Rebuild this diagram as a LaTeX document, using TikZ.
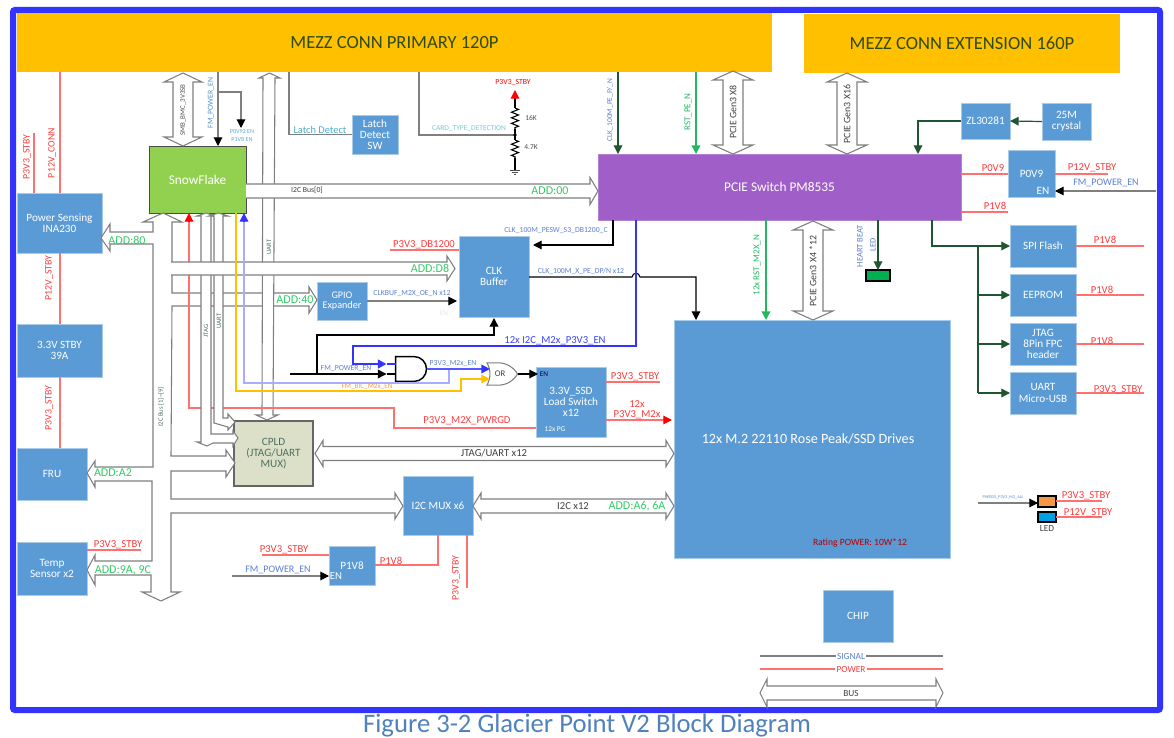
\documentclass[tikz,border=0pt]{standalone}
\usepackage{fontspec}
\setmainfont{Carlito}
\usetikzlibrary{arrows.meta,calc,shapes.gates.logic.US,decorations.pathmorphing}
\definecolor{blk}{HTML}{5B9BD5}
\definecolor{blkb}{HTML}{A9CBE8}
\definecolor{mezz}{HTML}{FFC000}
\definecolor{frameb}{HTML}{3333FF}
\definecolor{gline}{HTML}{7F7F7F}
\definecolor{pline}{HTML}{FF7070}
\definecolor{ptxt}{HTML}{FF3B3B}
\definecolor{ctxt}{HTML}{5B7FD0}
\definecolor{addg}{HTML}{33CC66}
\definecolor{dkg}{HTML}{1E5631}
\definecolor{mgrn}{HTML}{21B85F}
\definecolor{lav}{HTML}{AAAAFF}
\definecolor{teal1}{HTML}{5BA9CF}
\definecolor{cyan1}{HTML}{4BACC6}
\definecolor{cyan2}{HTML}{7CC4DC}
\definecolor{purp}{HTML}{A05FC8}
\definecolor{snowg}{HTML}{92D050}
\definecolor{cpldf}{HTML}{DCE0C9}
\definecolor{gtxt}{HTML}{4F7060}
\definecolor{orgt}{HTML}{FF9A3C}
\definecolor{ledgreen}{HTML}{00B050}
\definecolor{ledorange}{HTML}{F79646}
\definecolor{ledblue}{HTML}{00A0E6}
\definecolor{mezztxt}{HTML}{2F4A12}
\definecolor{titleb}{HTML}{4F81BD}
\tikzset{
 fs/.style={font=\fontsize{#1}{#1}\selectfont},
 blkn/.style={draw=blkb,line width=.6pt,fill=blk,text=white,align=center,outer sep=0pt,fs=8.4},
 snown/.style={draw=black!70,line width=.7pt,fill=snowg,text=white,align=center,outer sep=0pt,fs=10},
 cpldn/.style={draw=black!60,line width=.9pt,fill=cpldf,text=gtxt,align=center,outer sep=0pt,fs=8.4},
 pcien/.style={draw=purp!80!white,line width=.5pt,fill=purp,text=white,align=center,outer sep=0pt,fs=10},
 m2n/.style={blkn,fs=10.6},
 mezzn/.style={fill=mezz,text=mezztxt,outer sep=0pt,fs=13.9},
 ledg/.style={draw=black,line width=1.4pt,fill=#1,outer sep=0pt},
 pw/.style={draw=pline,line width=.8pt},
 sg/.style={draw=gline,line width=.8pt},
 bl/.style={draw=black,line width=.8pt},
 dk/.style={draw=dkg,line width=.9pt},
 gn/.style={draw=mgrn,line width=1.1pt},
 tip/.style={-{Triangle[length=6.5pt,width=6.5pt,color=#1]}},
 fat/.style={draw=gline,line width=.8pt,fill=white},
 fatopen/.style={draw=gline,line width=.8pt},
 lb/.style={inner sep=0pt,outer sep=0pt},
 lred/.style={lb,text=ptxt,fs=8},
 lredv/.style={lb,text=ptxt,fs=7.4,rotate=90},
 ladd/.style={lb,text=addg,fs=9},
 lcl/.style={lb,text=ctxt,fs=5.8},
 lblue/.style={lb,text=ctxt,fs=7.5},
 lbus/.style={lb,text=black!75,fs=7},
 lpci/.style={lb,text=black!75,fs=7.4,rotate=90},
 lgv/.style={lb,text=gtxt,fs=5,rotate=90},
}
\newcounter{labn}
\newcommand\lab[3][lb]{\stepcounter{labn}\node[#1] (lab\arabic{labn}) at (#2) {#3};}
\newcommand\boxnode[7][blkn]{%
 \pgfmathsetmacro\bw{(#5-#3)*0.75}\pgfmathsetmacro\bh{(#6-#4)*0.75}%
 \node[#1,minimum width=\bw pt,minimum height=\bh pt,inner sep=0pt] (#2) at ({(#3+#5)/2},{(#4+#6)/2}) {#7};}
% two-headed block arrow between two named points: shaft half, head half, head length (px)
\newcommand\fatboth[5]{%
 \draw[fat] (#1) -- ($(#1)!#5*0.75pt!(#2)!#4*0.75pt!90:(#2)$) -- ($(#1)!#5*0.75pt!(#2)!#3*0.75pt!90:(#2)$)
  -- ($(#2)!#5*0.75pt!(#1)!#3*0.75pt!-90:(#1)$) -- ($(#2)!#5*0.75pt!(#1)!#4*0.75pt!-90:(#1)$) -- (#2)
  -- ($(#2)!#5*0.75pt!(#1)!#4*0.75pt!90:(#1)$) -- ($(#2)!#5*0.75pt!(#1)!#3*0.75pt!90:(#1)$)
  -- ($(#1)!#5*0.75pt!(#2)!#3*0.75pt!-90:(#2)$) -- ($(#1)!#5*0.75pt!(#2)!#4*0.75pt!-90:(#2)$) -- cycle;}
% one-headed block arrow, open at its start
\newcommand\fatone[5]{%
 \fill[white] ($(#1)!#3*0.75pt!90:(#2)$) -- ($(#2)!#5*0.75pt!(#1)!#3*0.75pt!-90:(#1)$) -- ($(#2)!#5*0.75pt!(#1)!#4*0.75pt!-90:(#1)$) -- (#2)
  -- ($(#2)!#5*0.75pt!(#1)!#4*0.75pt!90:(#1)$) -- ($(#2)!#5*0.75pt!(#1)!#3*0.75pt!90:(#1)$) -- ($(#1)!#3*0.75pt!-90:(#2)$) -- cycle;
 \draw[fatopen] ($(#1)!#3*0.75pt!90:(#2)$) -- ($(#2)!#5*0.75pt!(#1)!#3*0.75pt!-90:(#1)$) -- ($(#2)!#5*0.75pt!(#1)!#4*0.75pt!-90:(#1)$) -- (#2)
  -- ($(#2)!#5*0.75pt!(#1)!#4*0.75pt!90:(#1)$) -- ($(#2)!#5*0.75pt!(#1)!#3*0.75pt!90:(#1)$) -- ($(#1)!#3*0.75pt!-90:(#2)$);}
\begin{document}
\begin{tikzpicture}[x=0.75pt,y=-0.75pt]
\useasboundingbox (0,0) rectangle (1174,738);
% frame and connectors strips
\draw[frameb,line width=4.5pt,rounded corners=1.5pt] (13,10) rectangle (1160,710);
\boxnode[mezzn]{mezzA}{17}{13}{772}{72}{MEZZ CONN PRIMARY 120P}
\boxnode[mezzn]{mezzB}{804}{14}{1120}{73}{MEZZ CONN EXTENSION 160P}
\lab[lb,text=titleb,fs=20]{587,726}{Figure 3-2 Glacier Point V2 Block Diagram}
% blocks
\boxnode[snown]{snow}{149}{146}{246}{213}{SnowFlake}
\boxnode{ina}{17}{193}{102}{253}{Power Sensing\\INA230}
\boxnode{vr}{17}{324}{102}{377}{3.3V STBY\\39A}
\boxnode{fru}{17}{448}{87}{500}{FRU}
\boxnode{temp}{17}{542}{87}{595}{Temp\\Sensor x2}
\boxnode{latch}{352}{115}{398}{154}{Latch\\Detect\\SW}
\boxnode[blkn,fs=7.6]{gpio}{317}{282}{367}{320}{GPIO\\Expander}
\boxnode{clk}{459}{236}{529}{317}{CLK\\Buffer}
\boxnode{lsw}{536}{367}{606}{437}{3.3V\_SSD\\Load Switch\\x12}
\boxnode{mux}{403}{476}{473}{535}{I2C MUX x6}
\boxnode{pv18}{329}{546}{375}{585}{P1V8}
\boxnode[m2n]{m2}{674}{320}{950}{558}{12x M.2 22110 Rose Peak/SSD Drives\hspace*{6pt}}
\boxnode[pcien]{pcie}{598}{154}{961}{220}{PCIE Switch PM8535}
\boxnode{zl}{961}{103}{1010}{139}{ZL30281}
\boxnode{xtal}{1042}{103}{1091}{140}{25M\\crystal}
\boxnode{pv09}{1008}{150}{1055}{197}{P0V9}
\boxnode{spi}{1010}{225}{1076}{267}{SPI Flash}
\boxnode{eep}{1010}{274}{1076}{316}{EEPROM}
\boxnode{jtg}{1010}{323}{1076}{365}{JTAG\\8Pin FPC\\header}
\boxnode{urt}{1010}{372}{1076}{414}{UART\\Micro-USB}
\boxnode{chip}{823}{590}{893}{642}{CHIP}
\boxnode[ledg=ledgreen]{ledh}{866}{270}{890}{281}{}
\boxnode[ledg=ledorange]{ledo}{1038}{496}{1056}{507}{}
\boxnode[ledg=ledblue]{ledb}{1038}{512}{1056}{522}{}
\boxnode[cpldn]{cpld}{234}{421}{313}{486}{CPLD\\(JTAG/UART\\MUX)}
\lab[lb,text=white,fs=8.4]{1043,191}{EN}
\lab[lb,text=white,fs=8]{336,576}{EN}
\lab[lb,text=black!70!blue,fs=5.5]{544,374}{EN}
\lab[lb,text=white,fs=5.5]{555,429}{12x PG}
\lab[lb,text=black!10,fs=5.5]{444,313}{EN}
\lab[lb,text=red!70!black,fs=7.2]{860,543}{Rating POWER: 10W*12}
\lab[lb,text=black!75,fs=7]{1047,529}{LED}
% power rails, left side
\coordinate (p33t) at (34,133); \coordinate (p12t) at (60,72);
\draw[pw] (p33t) -- (p33t |- ina.north);
\draw[pw] (p12t) -- (p12t |- ina.north);
\draw[pw] (p12t |- ina.south) -- (p12t |- vr.north);
\draw[pw] (p12t |- vr.south) -- (p12t |- fru.north);
\lab[lredv]{27,157}{P3V3\_STBY}
\lab[lredv]{52,153}{P12V\_CONN}
\lab[lredv]{49,278}{P12V\_STBY}
\lab[lredv]{49,408}{P3V3\_STBY}
\coordinate (tpr) at (141,550);
\draw[pw] (temp.east |- tpr) -- (tpr);
\lab[lred]{118,545}{P3V3\_STBY}
% top lines around SnowFlake
\coordinate (smbT) at (183,73); \coordinate (smbB) at (smbT |- snow.north);
\fatboth{smbT}{smbB}{10}{19}{9}
\lab[lb,text=black!70,fs=5.2,rotate=90]{183,110}{SMB\_BMC\_3V3SB}
\coordinate (fpT) at (218,72); \coordinate (fpB) at (218,92); \coordinate (fpE) at (241,128);
\draw[sg,tip=black] (fpT) -- (fpT |- snow.north);
\draw[sg,tip=black] (fpB) -| (fpE);
\lab[lb,text=ctxt!60!cyan1,fs=5.8,rotate=90]{211,103}{FM\_POWER\_EN}
\lab[lb,text=teal1,fs=4.6]{242,132}{P0V92 EN}
\lab[lb,text=teal1,fs=4.6]{242,139}{P1V8 EN}
\coordinate (ltT) at (289,72);
\draw[sg] (ltT) |- (latch.west);
\lab[lb,text=cyan1,fs=7.8]{320,130}{Latch Detect}
\coordinate (ctT) at (419,72); \coordinate (rdot) at (515,135);
\draw[sg] (ctT) |- (rdot);
\lab[lb,text=cyan2,fs=5.6]{469,129}{CARD\_TYPE\_DETECTION}
% resistor divider
\coordinate (rtip) at (515,90); \coordinate (r1a) at (515,108); \coordinate (r1b) at (515,129);
\coordinate (r2a) at (515,140); \coordinate (r2b) at (515,158); \coordinate (rgnd) at (515,170);
\draw[black,line width=.8pt,tip=red] (r1a) -- (rtip);
\draw[black,line width=.8pt,decorate,decoration={zigzag,segment length=4.2pt,amplitude=2.6pt}] (r1a) -- (r1b);
\draw[black,line width=.8pt] (r1b) -- (r2a);
\draw[black,line width=.8pt,decorate,decoration={zigzag,segment length=4.2pt,amplitude=2.6pt}] (r2a) -- (r2b);
\draw[black,line width=.8pt] (r2b) -- (rgnd);
\draw[black!70,line width=.7pt] ($(rgnd)+(-5,0)$) -- ($(rgnd)+(5,0)$) ($(rgnd)+(-3,2)$) -- ($(rgnd)+(3,2)$) ($(rgnd)+(-1,4)$) -- ($(rgnd)+(1,4)$);
\fill[black] (rdot) circle (1.4pt);
\lab[lb,text=red,fs=5.8]{513,83}{P3V3\_STBY}
\lab[lb,text=black!70,fs=5.6]{531,118}{16K}
\lab[lb,text=black!70,fs=5.6]{531,147}{4.7K}
% PCIe top connections
\coordinate (ckT) at (618,72); \coordinate (rsT) at (696,72);
\draw[dk,tip=dkg] (ckT) -- (ckT |- pcie.north);
\draw[gn,tip=mgrn] (rsT) -- (rsT |- pcie.north);
\lab[lb,text=ctxt,fs=5.6,rotate=90]{610,110}{CLK\_100M\_PE\_P/\_N}
\lab[lb,text=mgrn,fs=6.8,rotate=90]{688,112}{RST\_PE\_N}
\coordinate (x8T) at (733,71); \coordinate (x8B) at (x8T |- pcie.north);
\fatboth{x8T}{x8B}{10}{20}{9}
\lab[lpci]{733,112}{PCIE Gen3 X8}
\coordinate (x16T) at (847,73); \coordinate (x16B) at (x16T |- pcie.north);
\fatboth{x16T}{x16B}{10}{20}{9}
\lab[lpci]{847,114}{PCIE Gen3 X16}
\coordinate (zlin) at (918,121);
\draw[dk,tip=dkg] (zl.west) -| (zlin |- pcie.north);
\draw[dk,tip=dkg] (xtal.west) -- (zl.east);
% right side power
\coordinate (pv0) at (961,174); \coordinate (pv1) at (961,212); \coordinate (pv1e) at (1008,212);
\draw[pw] (pv0) -- (pv0 -| pv09.west);
\draw[pw] (pv1) -- (pv1e);
\lab[lred]{993,168}{P0V9}
\lab[lred]{995,206}{P1V8}
\coordinate (p12r) at (1108,174);
\draw[pw] (pv09.east |- p12r) -- (p12r);
\lab[lred]{1092,168}{P12V\_STBY}
\coordinate (fmR) at (1156,191);
\draw[sg,tip=black] (fmR) -- (fmR -| pv09.east);
\lab[lblue]{1106,183}{FM\_POWER\_EN}
% heartbeat
\coordinate (hbT) at (878,220);
\draw[dk,tip=dkg] (hbT) -- (hbT |- ledh.north);
\lab[lb,text=ctxt,fs=6.4,rotate=90]{860,246}{HEART BEAT}
\lab[lb,text=ctxt,fs=6.4,rotate=90]{873,245}{LED}
\coordinate (x4T) at (813,221); \coordinate (x4B) at (x4T |- m2.north);
\fatboth{x4T}{x4B}{10}{20}{9}
\lab[lpci]{813,271}{PCIE Gen3 X4 *12}
\coordinate (rmT) at (766,220);
\draw[gn,tip=mgrn] (rmT) -- (rmT |- m2.north);
\lab[lb,text=mgrn,fs=6.8,rotate=90]{757,265}{12x RST\_M2X\_N}
% management devices
\coordinate (mgT) at (932,220); \coordinate (mgV) at (978,245);
\draw[dk,tip=dkg] (mgT) |- (spi.west);
\draw[dk] (mgV) -- (mgV |- urt.west);
\draw[dk,tip=dkg] (mgV |- eep.west) -- (eep.west);
\draw[dk,tip=dkg] (mgV |- jtg.west) -- (jtg.west);
\draw[dk,tip=dkg] (mgV |- urt.west) -- (urt.west);
\coordinate (rE) at (1144,300);
\draw[pw] (spi.east) -- (spi.east -| rE);
\draw[pw] (eep.east) -- (eep.east -| rE);
\draw[pw] (jtg.east) -- (jtg.east -| rE);
\draw[pw] (urt.east) -- (urt.east -| rE);
\lab[lred]{1105,240}{P1V8}
\lab[lred]{1102,290}{P1V8}
\lab[lred]{1102,341}{P1V8}
\lab[lred]{1118,390}{P3V3\_STBY}
% LED legend
\coordinate (pgL) at (978,503); \coordinate (l1r) at (1102,501); \coordinate (l2r) at (1102,517);
\draw[sg,tip=black] (pgL) -- (pgL -| ledo.west);
\draw[pw] (ledo.east |- l1r) -- (l1r);
\draw[pw] (ledb.east |- l2r) -- (l2r);
\lab[lb,text=ctxt!70!cyan1,fs=3.2]{1003,497}{PWRGD\_P3V3\_M2\_ALL}
\lab[lred]{1086,496}{P3V3\_STBY}
\lab[lred]{1088,513}{P12V\_STBY}
% main I2C bus network
\draw[fat] (163,213) -- (182,222) -- (172,222) -- (172,293) -- (309,293) -- (309,287) -- (317,300)
 -- (309,313) -- (309,306) -- (172,306) -- (171,456) -- (226,456) -- (226,450) -- (235,463) -- (226,477)
 -- (226,471) -- (171,471) -- (171,499) -- (395,499) -- (395,493) -- (403,506) -- (395,519) -- (395,513)
 -- (171,513) -- (171,592) -- (180,592) -- (161,601) -- (142,592) -- (151,592) -- (151,575) -- (95,575)
 -- (95,585) -- (87,570) -- (95,555) -- (95,561) -- (152,561) -- (152,481) -- (95,481) -- (95,487)
 -- (87,473) -- (95,461) -- (95,467) -- (153,467) -- (153,244) -- (110,244) -- (110,251) -- (101,238)
 -- (110,224) -- (110,232) -- (153,232) -- (153,222) -- (143,222) -- cycle;
\lab[lgv]{161,407}{I2C Bus [1]\textasciitilde[9]}
\lab[ladd]{127,240}{ADD:80}
\lab[ladd]{113,473}{ADD:A2}
\lab[ladd]{123,570}{ADD:9A, 9C}
\lab[ladd]{295,300}{ADD:40}
% big UART arrow
\draw[fat] (269.5,73) -- (280,78) -- (275,78) -- (273,415) -- (278,415) -- (267,420) -- (256,415) -- (262,415) -- (263,78) -- (259,78) -- cycle;
% power good
\coordinate (rd1) at (189,222); \coordinate (rd2) at (189,408); \coordinate (rd3) at (394,428);
\draw[pline,line width=.9pt] (rd1) -- (rd2) -| (rd3) -- (rd3 -| lsw.west);
\draw[red,line width=.9pt,tip=red] (rd1) -- (rd1 |- snow.south);
\lab[lred]{467,421}{P3V3\_M2X\_PWRGD}
% JTAG and UART from SnowFlake
\draw[fat] (206,213) -- (215,216) -- (211,216) -- (211,434) -- (233,434) -- (233,431) -- (238,438) -- (233,446) -- (233,443)
 -- (213,443) -- (207,446) -- (197,442) -- (201,442) -- (201,216) -- (197,216) -- cycle;
\draw[fat] (218.5,213) -- (228,216) -- (223,216) -- (223,418) -- (228,418) -- (228,414) -- (235,422) -- (228,430) -- (228,427) -- (214,423) -- (214,216) -- (209,216) -- cycle;
\lab[lgv]{206,331}{JTAG}
\lab[lgv]{219,321}{UART}
\lab[lgv]{269,247}{UART}
% cross buses
\coordinate (d8a) at (171,268.5); \coordinate (d8b) at (455,268.5);
\fatone{d8a}{d8b}{6.5}{12.5}{8}
\lab[ladd]{430,268}{ADD:D8}
\coordinate (i0a) at ($(snow.east)+(0,11.5)$); \coordinate (i0b) at (i0a -| pcie.west);
\fatone{i0a}{i0b}{7}{13.5}{8}
\lab[lb,text=black!75,fs=5.8]{307,190}{I2C Bus[0]}
\lab[ladd]{550,191}{ADD:00}
% signals to CLK buffer
\coordinate (ckE) at (613,220); \coordinate (ckL) at (533,245);
\draw[bl,tip=black] (ckE) |- (ckL);
\lab[lcl]{556,231}{CLK\_100M\_PESW\_S3\_DB1200\_C}
\coordinate (db) at (390,250);
\draw[pw] (db) -- (db -| clk.west);
\lab[lred]{424,245}{P3V3\_DB1200}
\coordinate (oeE) at (457,301);
\draw[sg,tip=black] (gpio.east |- oeE) -- (oeE);
\lab[lcl]{412,294}{CLKBUF\_M2X\_OE\_N x12}
\coordinate (hp1) at (632,277); \coordinate (hp2) at (640,277); \coordinate (m2clk) at (696,320);
\draw[bl,tip=black] (clk.east |- hp1) -- (hp1) .. controls (633,272) and (639,272) .. (hp2) -| (m2clk);
\lab[lcl]{581,271}{CLK\_100M\_X\_PE\_DP/N x12}
% logic
\node[and gate US,draw=black,line width=1.1pt,fill=white,logic gate inputs=nn,minimum width=22pt,minimum height=16pt,inner sep=0pt,outer sep=0pt] (andg) at (410,369) {};
\coordinate (and1) at ($(andg.west)+(0,-5)$);
\coordinate (and2) at ($(andg.west)+(0,5)$);
\coordinate (ai1) at ($(and1)+(-9,0)$);
\coordinate (ai2) at ($(and2)+(-9,0)$);
\coordinate (fpx) at (290,0); \coordinate (fpL) at (fpx |- ai2); \coordinate (fpU) at (317,335); \coordinate (clkb) at (494,318);
\draw[bl,line width=1pt,tip=black] (fpL) -- (ai2);
\draw[bl] (ai2) -- (and2);
\draw[bl,line width=1pt,tip=black] (fpL -| fpU) -- (fpU) -| (clkb);
\lab[lcl]{346,369}{FM\_POWER\_EN}
\coordinate (blT) at (636,220); \coordinate (blD) at (353,346);
\draw[frameb,line width=1.6pt,tip=frameb] (blT) |- (blD) |- (ai1);
\draw[frameb,line width=1pt] (ai1) -- (and1);
\lab[lb,text=frameb!80!ctxt,fs=8]{555,341}{12x I2C\_M2x\_P3V3\_EN}
\node[or gate US,draw=gline,line width=.8pt,fill=white,logic gate inputs=nn,minimum width=22pt,minimum height=16pt,inner sep=0pt,outer sep=0pt,fs=6.5,text=black!75] (org) at (500,374) {OR};
\coordinate (oi1) at ($(org.west)+(0,-5)$);
\coordinate (oi2) at ($(org.west)+(0,5)$);
\coordinate (lavB) at (449,383); \coordinate (lavL) at (244,383); \coordinate (lavS) at (244,222);
\draw[lav,line width=1.2pt] (andg.east -| lavB) -- (lavB) -- (lavL) -- (lavS);
\draw[frameb,line width=1pt,tip=frameb] (lavS) -- (lavS |- snow.south);
\draw[frameb!70!lav,line width=1.2pt,tip=frameb] (andg.east) -- (andg.east -| oi1);
\lab[lcl]{453,364}{P3V3\_M2x\_EN}
\coordinate (yeS) at (236,213); \coordinate (yeB) at (236,391); \coordinate (yeU) at (461,391);
\draw[mezz,line width=1.2pt,tip=mezz] (yeS) -- (yeB) -- (yeU) |- (oi2);
\lab[lb,text=orgt,fs=5.4]{367,387}{FM\_BIC\_M2x\_EN}
\coordinate (enT) at (538,374);
\draw[bl,tip=black] (org.east) -- (enT);
% load switch
\coordinate (lsa) at (660,382); \coordinate (lsb) at (672,420);
\draw[pw] (lsw.east |- lsa) -- (lsa);
\draw[pw,tip=red] (lsw.east |- lsb) -- (lsb);
\lab[lred]{635,377}{P3V3\_STBY}
\lab[lred]{637,404}{12x}
\lab[lred]{637,415}{P3V3\_M2x}
% buses to the M.2
\coordinate (jua) at ($(cpld.east)+(2,0)$); \coordinate (jub) at (jua -| m2.west);
\fatboth{jua}{jub}{7}{13}{8}
\lab[lb,text=black!75,fs=8]{494,453}{JTAG/UART x12}
\coordinate (i12a) at (473,506); \coordinate (i12b) at (i12a -| m2.west);
\fatboth{i12a}{i12b}{7}{13}{8}
\lab[lb,text=black!75,fs=8]{573,506}{I2C x12}
\lab[ladd]{637,506}{ADD:A6, 6A}
% P1V8 regulator
\coordinate (pvc) at (438,565); \coordinate (p33d) at (467,588); \coordinate (pva) at (262,555); \coordinate (fpa) at (232,576);
\draw[pw] (pv18.east |- pvc) -- (pvc) -- (pvc |- mux.south);
\draw[pw] (p33d |- mux.south) -- (p33d);
\draw[pw] (pva) -- (pva -| pv18.west);
\draw[sg,tip=black] (fpa) -- (fpa -| pv18.west);
\lab[lred]{391,561}{P1V8}
\lab[lredv]{456,578}{P3V3\_STBY}
\lab[lred]{284,550}{P3V3\_STBY}
\lab[lblue]{278,570}{FM\_POWER\_EN}
% legend
\coordinate (sgL) at (760,656); \coordinate (sgR) at (943,656);
\coordinate (poL) at (760,669); \coordinate (poR) at (943,669);
\coordinate (buL) at (760,693); \coordinate (buR) at (943,693);
\draw[sg] (sgL) -- (sgR);
\draw[pw] (poL) -- (poR);
\fatboth{buL}{buR}{7}{14}{7}
\lab[lb,fill=white,text=ctxt,fs=7,inner xsep=1pt]{851,656}{SIGNAL}
\lab[lb,fill=white,text=ptxt,fs=7,inner xsep=1pt]{851,669}{POWER}
\lab[lbus]{851,693}{BUS}
\end{tikzpicture}
\end{document}
